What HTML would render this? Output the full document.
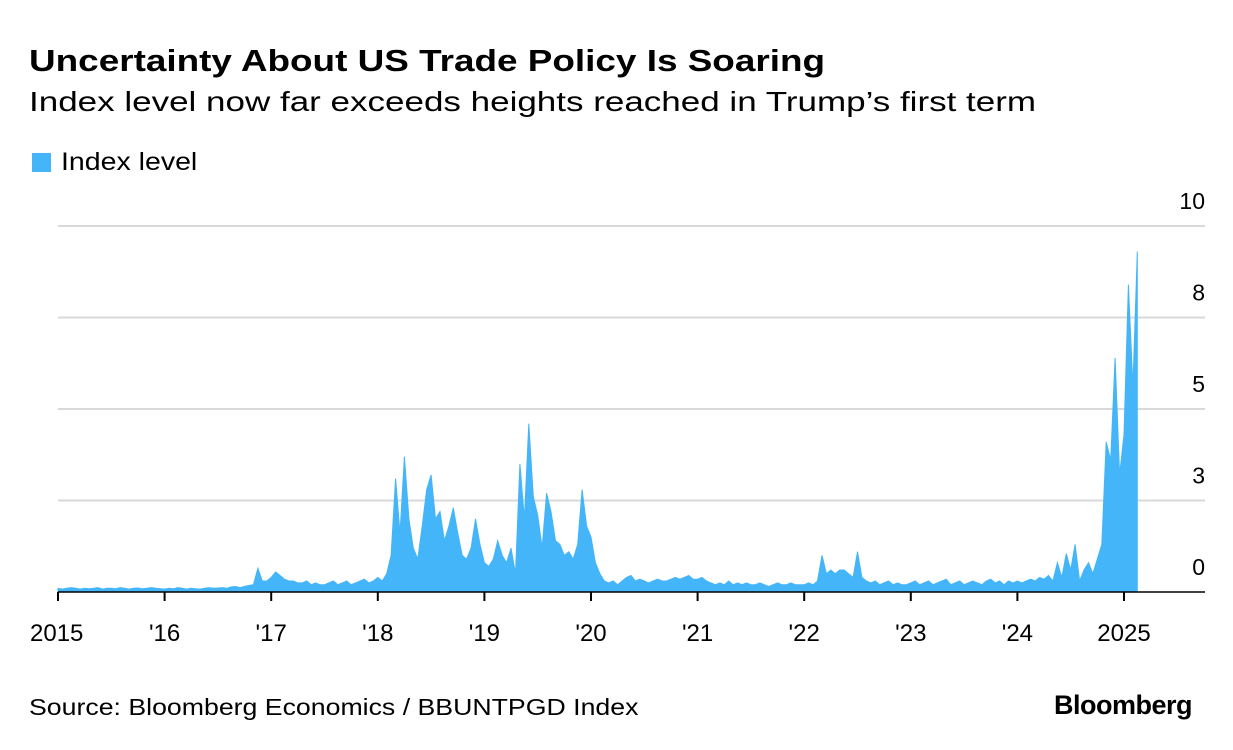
<!DOCTYPE html>
<html><head><meta charset="utf-8"><style>
body{margin:0;background:#fff;font-family:"Liberation Sans",Arial,sans-serif;}
#wrap{position:relative;width:1233px;height:750px;overflow:hidden;}
.t{position:absolute;white-space:nowrap;color:#000;transform-origin:0 0;}
</style></head><body><div id="wrap">
<div class="t" style="left:29px;top:43px;font-size:31px;font-weight:bold;transform:scaleX(1.19)">Uncertainty About US Trade Policy Is Soaring</div>
<div class="t" style="left:29px;top:86px;font-size:28px;transform:scaleX(1.25)">Index level now far exceeds heights reached in Trump’s first term</div>
<div style="position:absolute;left:32px;top:153px;width:19px;height:19px;background:#44b5f8"></div>
<div class="t" style="left:61px;top:148px;font-size:25px;transform:scaleX(1.14)">Index level</div>
<svg id="svg" width="1233" height="750" style="position:absolute;left:0;top:0"></svg>
<div class="t" style="left:29px;top:694px;font-size:23px;transform:scaleX(1.16)">Source: Bloomberg Economics / BBUNTPGD Index</div>
<div class="t" style="left:1054px;top:690px;font-size:27px;font-weight:bold;letter-spacing:-0.5px">Bloomberg</div>
</div>
<script>
const yearLabels=["2015","'16","'17","'18","'19","'20","'21","'22","'23","'24","2025"];
const yTickValues=[0,2.5,5,7.5,10];
const yTickLabels=["0","3","5","8","10"];
const v2015=[0.1,0.08,0.1,0.12,0.1,0.08,0.1,0.09,0.1,0.12,0.08,0.1,0.1,0.09,0.12,0.1,0.08,0.1,0.11,0.09,0.1,0.12,0.1,0.09];
const v2016=[0.08,0.1,0.09,0.12,0.1,0.08,0.1,0.09,0.08,0.1,0.12,0.1,0.11,0.12,0.1,0.14,0.15,0.12,0.15,0.18,0.2,0.65,0.3,0.3];
const v2017=[0.4,0.55,0.45,0.35,0.3,0.3,0.25,0.25,0.3,0.2,0.25,0.2,0.2,0.25,0.3,0.2,0.25,0.3,0.2,0.25,0.3,0.35,0.25,0.3];
const v2018=[0.4,0.3,0.5,1.0,3.1,1.6,3.7,2.0,1.2,0.9,1.8,2.8,3.2,2.0,2.2,1.4,1.8,2.3,1.6,1.0,0.9,1.2,2.0,1.3];
const v2019=[0.8,0.7,0.9,1.4,1.0,0.8,1.2,0.5,3.5,2.0,4.6,2.6,2.1,1.2,2.7,2.2,1.4,1.3,1.0,1.1,0.9,1.3,2.8,1.8];
const v2020=[1.5,0.8,0.5,0.3,0.25,0.3,0.2,0.3,0.4,0.45,0.3,0.35,0.3,0.25,0.3,0.35,0.3,0.3,0.35,0.4,0.35,0.4,0.45,0.35];
const v2021=[0.35,0.4,0.3,0.25,0.2,0.25,0.2,0.3,0.2,0.25,0.2,0.25,0.2,0.2,0.25,0.2,0.15,0.2,0.25,0.2,0.2,0.25,0.2,0.2];
const v2022=[0.2,0.25,0.2,0.3,1.0,0.5,0.6,0.5,0.6,0.6,0.5,0.4,1.1,0.4,0.3,0.25,0.3,0.2,0.25,0.3,0.2,0.25,0.2,0.2];
const v2023=[0.25,0.3,0.2,0.25,0.3,0.2,0.25,0.3,0.35,0.2,0.25,0.3,0.2,0.25,0.3,0.25,0.2,0.3,0.35,0.25,0.3,0.2,0.3,0.25];
const v2024=[0.3,0.25,0.3,0.35,0.3,0.4,0.35,0.45,0.3,0.8,0.4,1.05,0.6,1.3,0.3,0.6,0.8,0.5,0.9,1.3,4.1,3.6,6.4,3.2];
const v2025=[4.3,8.4,5.6,9.3];
const series=[].concat(v2015,v2016,v2017,v2018,v2019,v2020,v2021,v2022,v2023,v2024,v2025);
const svg=document.getElementById('svg');const NS='http://www.w3.org/2000/svg';
const X0=58,PXY=106.6,Y0=592,PXV=36.6;
const xs=t=>X0+t*PXY, ys=v=>Y0-v*PXV;
function mk(tag,attrs){const e=document.createElementNS(NS,tag);for(const k in attrs)e.setAttribute(k,attrs[k]);svg.appendChild(e);return e;}
yTickValues.forEach((v,i)=>{
 if(v>0){const g=mk('line',{x1:58,x2:1205,y1:ys(v),y2:ys(v),stroke:'#d9d9d9','stroke-width':2});
 
 }
 const t=mk('text',{x:1205,y:ys(v)-17,'text-anchor':'end','font-size':23,'font-family':'Liberation Sans, sans-serif'});
 t.textContent=yTickLabels[i];
 
 
});
let d='M'+xs(0)+','+Y0;
series.forEach((v,i)=>{d+=' L'+xs(i/24).toFixed(1)+','+ys(v).toFixed(1);});
d+=' L'+xs((series.length-1)/24).toFixed(1)+','+Y0+' Z';
const area=mk('path',{d:d,fill:'#44b5f8',stroke:'#44b5f8','stroke-width':1});


const ax=mk('line',{x1:58,x2:1205,y1:Y0,y2:Y0,stroke:'#000','stroke-width':1.5});


yearLabels.forEach((l,i)=>{
 const tk=mk('line',{x1:xs(i),x2:xs(i),y1:Y0,y2:Y0+9,stroke:'#000','stroke-width':2});
 
 
 const t=mk('text',{x:xs(i),y:641,'text-anchor':i==0?'start':'middle','font-size':24,'font-family':'Liberation Sans, sans-serif'});
 if(i==0)t.setAttribute('x',xs(i)-28);
 t.textContent=l;
 
 
});
</script></body></html>
